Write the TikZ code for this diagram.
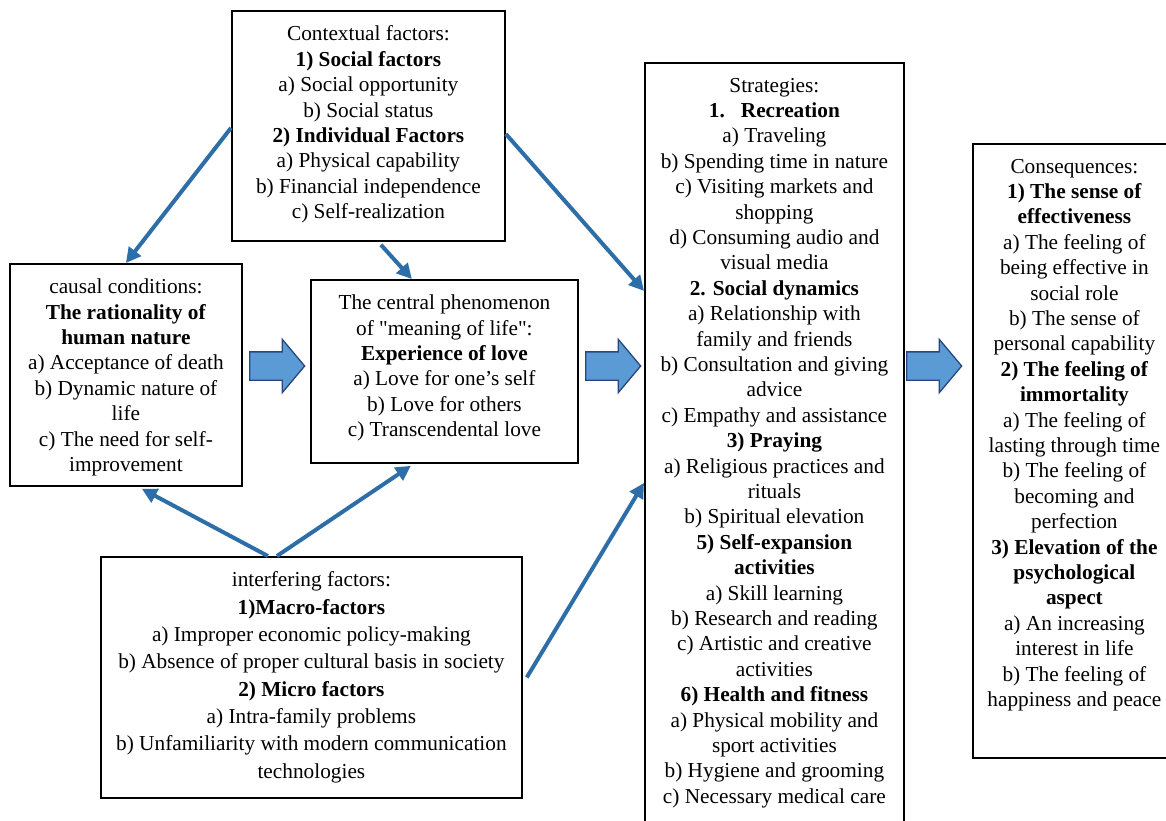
\documentclass[tikz,border=0pt]{standalone}
\usepackage{fontspec}
\setmainfont{Liberation Serif}
\usepackage{xcolor}
\usepackage{tikz}
\usetikzlibrary{arrows.meta}
\usetikzlibrary{shapes.arrows}

\definecolor{arrowfill}{RGB}{91,155,213}
\definecolor{arrowedge}{RGB}{40,70,125}
\definecolor{linkblue}{RGB}{46,110,168}

\newcommand{\boxtext}[3]{\parbox[t][#1][t]{#2}{\centering\vspace*{15pt}#3}}

\begin{document}
\begin{tikzpicture}[x=1pt, y=-1pt,
	factorbox/.style={draw, line width=1.8pt, inner sep=0pt, anchor=north west, font=\fontsize{21.3}{25.4}\selectfont},
	bigarrow/.style={single arrow, draw=arrowedge, fill=arrowfill, line width=1.3pt, minimum height=55pt, inner sep=13.5pt, single arrow head extend=12.5pt, single arrow tip angle=100, anchor=west},
	link/.style={linkblue, line width=4pt, -{Triangle[length=15pt,width=15pt]}}]
\useasboundingbox (0,0) rectangle (1166,821);

\node[factorbox] (ctx) at (231,10) {\boxtext{230pt}{273pt}{
	Contextual factors:\\
	\textbf{1) Social factors}\\
	a) Social opportunity\\
	b) Social status\\
	\textbf{2) Individual Factors}\\
	a) Physical capability\\
	b) Financial independence\\
	c) Self-realization}};
\node[factorbox] (cau) at (9,263) {\boxtext{222pt}{232pt}{
	causal conditions:\\
	\textbf{The rationality of}\\
	\textbf{human nature}\\
	a) Acceptance of death\\
	b) Dynamic nature of\\
	life\\
	c) The need for self-\\
	improvement}};
\node[factorbox] (cen) at (310,279) {\boxtext{183pt}{267pt}{
	The central phenomenon\\
	of \textquotedbl meaning of life\textquotedbl:\\
	\textbf{Experience of love}\\
	a) Love for one’s self\\
	b) Love for others\\
	c) Transcendental love}};
\node[factorbox, font=\fontsize{21.3}{27.3}\selectfont] (itf) at (100,556) {\boxtext{241pt}{421pt}{
	interfering factors:\\
	\textbf{1)Macro-factors}\\
	a) Improper economic policy-making\\
	b) Absence of proper cultural basis in society\\
	\textbf{2) Micro factors}\\
	a) Intra-family problems\\
	b) Unfamiliarity with modern communication\\
	technologies}};
\node[factorbox] (str) at (644,62) {\boxtext{788pt}{259pt}{
	Strategies:\\
	\textbf{1.\hspace{0.75em}Recreation}\\
	a) Traveling\\
	b) Spending time in nature\\
	c) Visiting markets and\\
	shopping\\
	d) Consuming audio and\\
	visual media\\
	\textbf{2. Social dynamics}\\
	a) Relationship with\\
	family and friends\\
	b) Consultation and giving\\
	advice\\
	c) Empathy and assistance\\
	\textbf{3) Praying}\\
	a) Religious practices and\\
	rituals\\
	b) Spiritual elevation\\
	\textbf{5) Self-expansion}\\
	\textbf{activities}\\
	a) Skill learning\\
	b) Research and reading\\
	c) Artistic and creative\\
	activities\\
	\textbf{6) Health and fitness}\\
	a) Physical mobility and\\
	sport activities\\
	b) Hygiene and grooming\\
	c) Necessary medical care}};
\node[factorbox] (con) at (972,143) {\boxtext{614pt}{203pt}{
	Consequences:\\
	\textbf{1) The sense of}\\
	\textbf{effectiveness}\\
	a) The feeling of\\
	being effective in\\
	social role\\
	b) The sense of\\
	personal capability\\
	\textbf{2) The feeling of}\\
	\textbf{immortality}\\
	a) The feeling of\\
	lasting through time\\
	b) The feeling of\\
	becoming and\\
	perfection\\
	\textbf{3) Elevation of the}\\
	\textbf{psychological}\\
	\textbf{aspect}\\
	a) An increasing\\
	interest in life\\
	b) The feeling of\\
	happiness and peace}};

\node[bigarrow] (a1) at (249,366) {};
\node[bigarrow] (a2) at (585,366) {};
\node[bigarrow] (a3) at (906,366) {};

\path[link]
([yshift=-2pt]ctx.west) edge (cau.north)
([xshift=12.5pt,yshift=-3pt]ctx.south) edge ([xshift=-32.5pt]cen.north)
([yshift=-8pt]ctx.east) edge ([yshift=166pt]str.west)
;
\path[link]
([xshift=-43.5pt]itf.north) edge ([xshift=16pt,yshift=-2pt]cau.south)
([xshift=-34.5pt]itf.north) edge ([xshift=-33.5pt,yshift=-2pt]cen.south)
([xshift=4pt]itf.east) edge ([yshift=-26pt]str.west)
;
\end{tikzpicture}
\end{document}
